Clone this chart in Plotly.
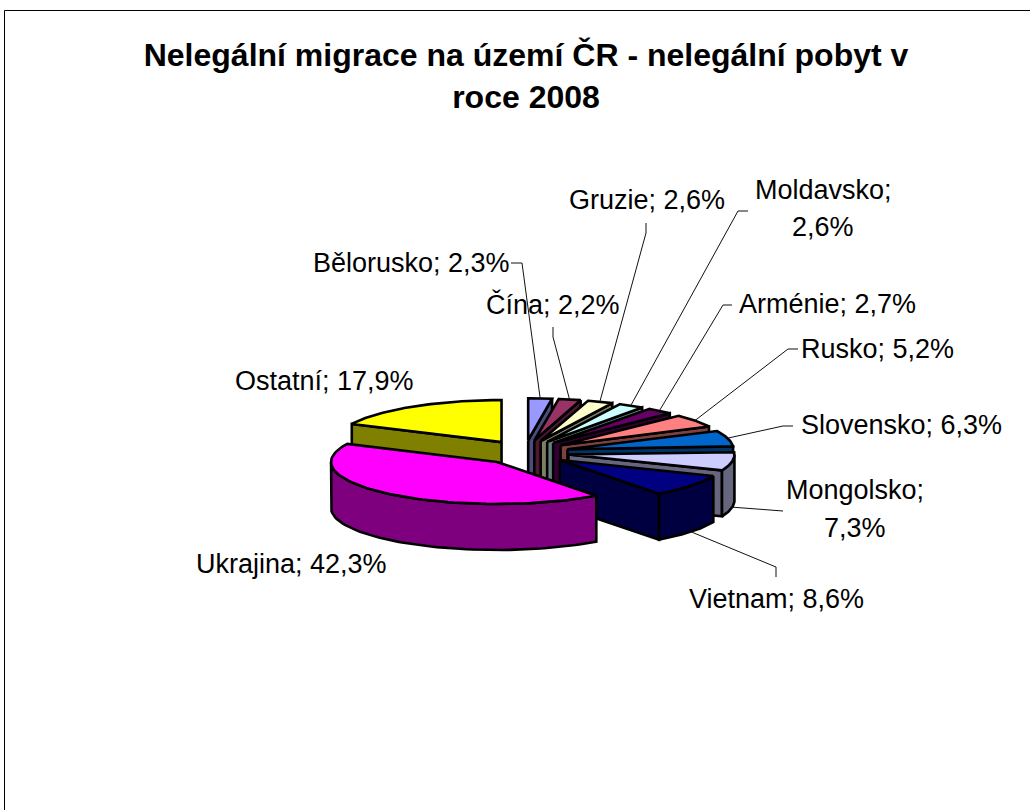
import numpy as np
import plotly.graph_objects as go

# Data
countries = ["Bělorusko", "Čína", "Gruzie", "Moldavsko", "Arménie", "Rusko",
             "Slovensko", "Mongolsko", "Vietnam", "Ukrajina", "Ostatní"]
shares = [2.3, 2.2, 2.6, 2.6, 2.7, 5.2, 6.3, 7.3, 8.6, 42.3, 17.9]
colors = ["#9999FF", "#993366", "#FFFFCC", "#CCFFFF", "#660066", "#FF8080",
          "#0066CC", "#CCCCFF", "#000080", "#FF00FF", "#FFFF00"]
title_text = "Nelegální migrace na území ČR - nelegální pobyt v<br>roce 2008"

# Pie geometry in page pixels
CX, CY = 525, 452.5
RX, RY = 166, 42
PULL_X, PULL_Y = 44, 12.3
DEPTH = 46

# label centre (x, y of each line), leader points after the one on the slice
label_pos = {
    "Bělorusko": (411, [263], [(522, 263), (511, 263)]),
    "Čína": (553, [304], [(553, 337), (553, 327)]),
    "Gruzie": (647, [200], [(646, 233), (646, 223)]),
    "Moldavsko": (823, [190, 227], [(738, 211), (748, 211)]),
    "Arménie": (827, [304], [(723, 305), (732, 305)]),
    "Rusko": (877, [349], [(788, 349), (798, 349)]),
    "Slovensko": (901, [425], [(783, 426), (793, 426)]),
    "Mongolsko": (855, [490, 528], [(772, 510), (783, 511)]),
    "Vietnam": (776, [599], [(776, 567), (776, 577)]),
    "Ukrajina": (291, [564], []),
    "Ostatní": (324, [381], []),
}
two_line = {"Moldavsko", "Mongolsko"}


def darker(hex_color):
    r, g, b = [int(hex_color[i:i + 2], 16) // 2 for i in (1, 3, 5)]
    return f"#{r:02X}{g:02X}{b:02X}"


def point(ax, ay, deg):
    t = np.radians(deg)
    return ax + RX * np.sin(t), ay - RY * np.cos(t)


def add_poly(fig, xs, ys, fill):
    fig.add_trace(go.Scatter(x=list(xs), y=list(ys), mode="lines", fill="toself",
                             fillcolor=fill, line=dict(color="black", width=2.6),
                             hoverinfo="skip", showlegend=False))


def add_slice(fig, start, end, color):
    mid = np.radians((start + end) / 2)
    ax = CX + PULL_X * np.sin(mid)
    ay = CY - PULL_Y * np.cos(mid)
    side = darker(color)

    # cut faces, only those turned to the viewer
    for deg, visible in ((start, np.sin(np.radians(start)) < 0),
                         (end, np.sin(np.radians(end)) > 0)):
        if visible:
            px, py = point(ax, ay, deg)
            add_poly(fig, [ax, px, px, ax, ax],
                     [ay, py, py + DEPTH, ay + DEPTH, ay], side)

    # outer wall
    lo, hi = max(start, 90), min(end, 270)
    if lo < hi:
        px, py = point(ax, ay, np.linspace(lo, hi, 60))
        add_poly(fig, np.r_[px, px[::-1], px[0]],
                 np.r_[py, py[::-1] + DEPTH, py[0]], side)

    # top
    px, py = point(ax, ay, np.linspace(start, end, 80))
    add_poly(fig, np.r_[ax, px, ax], np.r_[ay, py, ay], color)
    return point(ax, ay, (start + end) / 2)


fig = go.Figure()

ends = np.cumsum(shares) / np.sum(shares) * 360
starts = np.r_[0, ends[:-1]]

# Back to front: Ostatní first, Ukrajina on top
order = [10, 0, 1, 2, 3, 4, 5, 6, 7, 8, 9]
tips = {}
for i in order:
    tips[countries[i]] = add_slice(fig, starts[i], ends[i], colors[i])

annotations = []
for i, name in enumerate(countries):
    x, line_ys, leader = label_pos[name]
    value = f"{shares[i]:.1f}".replace(".", ",") + "%"
    lines = [name + ";", value] if name in two_line else [f"{name}; {value}"]
    for line, y in zip(lines, line_ys):
        annotations.append(dict(x=x, y=y, text=line, xref="x", yref="y", showarrow=False,
                                xanchor="center", yanchor="middle",
                                font=dict(family="Liberation Sans", size=27, color="black")))
    if leader:
        tx, ty = tips[name]
        # front slices take the leader from the lower rim
        if 90 < (starts[i] + ends[i]) / 2 < 270:
            ty += DEPTH
        fig.add_trace(go.Scatter(x=[tx] + [p[0] for p in leader],
                                 y=[ty] + [p[1] for p in leader],
                                 mode="lines", line=dict(color="#111111", width=1),
                                 hoverinfo="skip", showlegend=False))

fig.update_layout(
    width=1030, height=810,
    margin=dict(l=0, r=0, t=0, b=0),
    paper_bgcolor="white", plot_bgcolor="white",
    title=dict(text=title_text, x=526 / 1030, xanchor="center", y=1 - 66 / 810, yanchor="middle",
               font=dict(family="Liberation Sans", size=32, color="black", weight="bold")),
    xaxis=dict(range=[0, 1030], visible=False, fixedrange=True),
    yaxis=dict(range=[810, 0], visible=False, fixedrange=True),
    annotations=annotations,
    shapes=[dict(type="path", path="M 4.5,810 L 4.5,10.5 L 1030,10.5", xref="x", yref="y",
                 line=dict(color="black", width=1))],
)

fig.write_html("out.html", config={"displayModeBar": False},
               post_script="document.body.style.margin='0';")
